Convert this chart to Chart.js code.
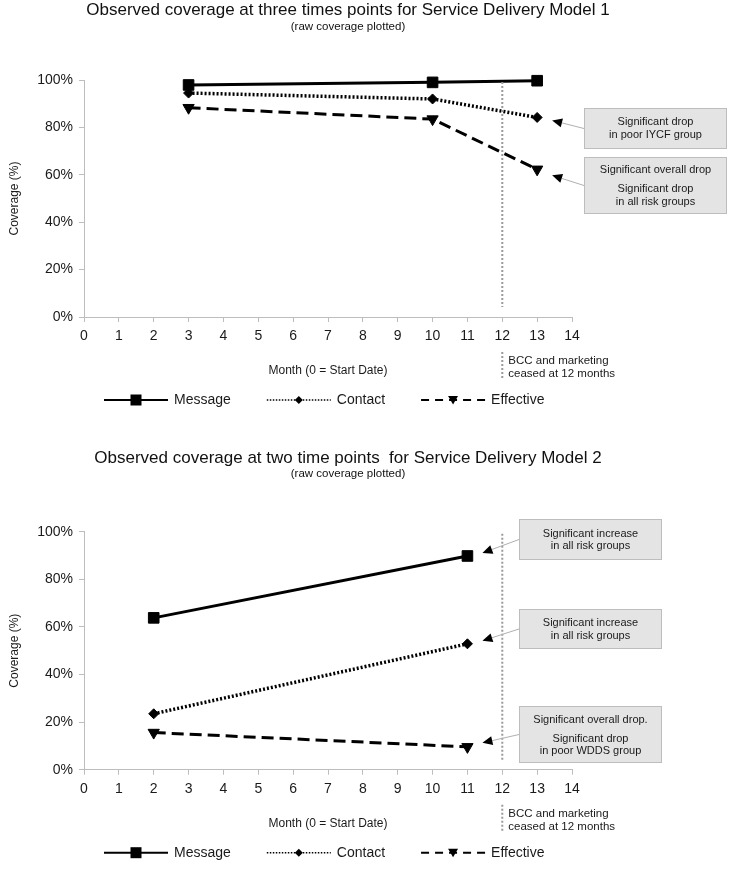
<!DOCTYPE html>
<html>
<head>
<meta charset="utf-8">
<title>Observed coverage</title>
<script src="https://cdn.jsdelivr.net/npm/chart.js@4.4.1/dist/chart.umd.min.js"></script>
<style>
  body { margin: 0; background: #fff; }
  .wrap { position: relative; width: 735px; height: 436px; }
</style>
</head>
<body>
<div class="wrap"><canvas id="model1" width="735" height="436"></canvas></div>
<div class="wrap"><canvas id="model2" width="735" height="436"></canvas></div>
<script>
// values, coverage in %
const seriesNames = ["Message", "Contact", "Effective"];

const months1 = [3, 10, 13];
const message1 = [97.9, 99.0, 99.7];
const contact1 = [94.5, 92.0, 84.2];
const effective1 = [88.3, 83.5, 62.3];

const months2 = [2, 11];
const message2 = [63.8, 89.8];
const contact2 = [23.5, 52.9];
const effective2 = [15.6, 9.6];

const yTicks = [0, 20, 40, 60, 80, 100];
const monthMin = 0, monthMax = 14;
const cutoffMonth = 12;

const FONT = "'Liberation Sans', Arial, sans-serif";
const INK = "#1a1a1a";
const AXIS = "#bdbdbd";

// line / marker look of each series (plot and legend)
const looks = [
  { dash: [], width: 3, point: "rect", radius: 7.5, rot: 0, legDash: [], legWidth: 2, legR: 5.5 },
  { dash: [2, 2], width: 3.5, point: "rectRot", radius: 5, rot: 0, legDash: [1.5, 1.5], legWidth: 1.5, legR: 4 },
  { dash: [12, 6], width: 3, point: "triangle", radius: 6.5, rot: 180, legDash: [8, 6], legWidth: 2, legR: 5 }
];

function makeDatasets(months, series) {
  return series.map(function (vals, i) {
    var lk = looks[i];
    return {
      label: seriesNames[i],
      data: months.map(function (m, j) { return { x: m, y: vals[j] }; }),
      borderColor: "#000",
      backgroundColor: "#000",
      borderWidth: lk.width,
      borderDash: lk.dash,
      pointStyle: lk.point,
      pointRadius: lk.radius,
      pointHoverRadius: lk.radius,
      pointRotation: lk.rot,
      pointBorderWidth: 1,
      tension: 0,
      clip: false
    };
  });
}

function line(ctx, x1, y1, x2, y2) {
  ctx.beginPath(); ctx.moveTo(x1, y1); ctx.lineTo(x2, y2); ctx.stroke();
}

function marker(ctx, style, x, y, r) {
  ctx.beginPath();
  if (style === "rect") {
    ctx.rect(x - r, y - r, 2 * r, 2 * r);
  } else if (style === "rectRot") {
    ctx.moveTo(x, y - r); ctx.lineTo(x + r, y); ctx.lineTo(x, y + r); ctx.lineTo(x - r, y);
  } else {
    ctx.moveTo(x - r, y - r * 0.8); ctx.lineTo(x + r, y - r * 0.8); ctx.lineTo(x, y + r * 0.9);
  }
  ctx.closePath(); ctx.fill();
}

// notes, arrows, cut-off line and the legend
function notesPlugin(cfg) {
  return {
    id: "notes",
    beforeDraw: function (chart) {
      var ctx = chart.ctx;
      ctx.save(); ctx.fillStyle = "#fff"; ctx.fillRect(0, 0, chart.width, chart.height); ctx.restore();
    },
    afterDraw: function (chart) {
      var ctx = chart.ctx, a = chart.chartArea;
      var cx = chart.scales.x.getPixelForValue(cutoffMonth);
      ctx.save();

      ctx.strokeStyle = "#9a9a9a"; ctx.lineWidth = 2; ctx.setLineDash([2, 2]);
      line(ctx, cx, a.top + 2, cx, a.bottom - 10);
      line(ctx, cx, a.bottom + 35, cx, a.bottom + 63);
      ctx.setLineDash([]);

      ctx.fillStyle = INK; ctx.font = "11.5px " + FONT;
      ctx.textAlign = "left"; ctx.textBaseline = "middle";
      ctx.fillText("BCC and marketing", cx + 6, a.bottom + 44);
      ctx.fillText("ceased at 12 months", cx + 6, a.bottom + 57);

      cfg.boxes.forEach(function (b) {
        ctx.fillStyle = "#e4e4e4"; ctx.strokeStyle = "#bdbdbd"; ctx.lineWidth = 1;
        ctx.fillRect(b.left, b.top, b.w, b.h);
        ctx.strokeRect(b.left + 0.5, b.top + 0.5, b.w - 1, b.h - 1);
        ctx.fillStyle = INK; ctx.font = "11px " + FONT; ctx.textAlign = "center";
        b.lines.forEach(function (ln) { ctx.fillText(ln[0], b.left + b.w / 2, b.top + ln[1]); });

        var pt = chart.getDatasetMeta(b.series).data[b.index];
        var tx = pt.x + 15, ty = pt.y + b.dy;
        var sx = b.left, sy = b.top + b.h / 2;
        var len = Math.hypot(sx - tx, sy - ty), ux = (sx - tx) / len, uy = (sy - ty) / len;
        var bx = tx + ux * 10, by = ty + uy * 10;
        ctx.strokeStyle = "#b0b0b0"; ctx.lineWidth = 1;
        line(ctx, sx, sy, bx, by);
        ctx.fillStyle = "#000";
        ctx.beginPath();
        ctx.moveTo(tx, ty);
        ctx.lineTo(bx - uy * 4.5, by + ux * 4.5);
        ctx.lineTo(bx + uy * 4.5, by - ux * 4.5);
        ctx.closePath(); ctx.fill();
      });

      // legend
      var ly = a.bottom + 83, lx = 104;
      ctx.font = "14px " + FONT; ctx.textAlign = "left";
      seriesNames.forEach(function (name, i) {
        var lk = looks[i];
        ctx.strokeStyle = "#000"; ctx.lineWidth = lk.legWidth; ctx.setLineDash(lk.legDash);
        line(ctx, lx, ly, lx + 64, ly);
        ctx.setLineDash([]);
        ctx.fillStyle = "#000";
        marker(ctx, lk.point, lx + 32, ly, lk.legR);
        ctx.fillStyle = INK;
        ctx.fillText(name, lx + 70, ly);
        lx += 70 + ctx.measureText(name).width + 36;
      });
      ctx.restore();
    }
  };
}

function makeChart(id, datasets, titleText, titlePad, subPad, bottomPad, boxes) {
  return new Chart(document.getElementById(id), {
    type: "line",
    data: { datasets: datasets },
    plugins: [notesPlugin({ boxes: boxes })],
    options: {
      responsive: false,
      animation: false,
      events: [],
      layout: { padding: { left: 0, right: 39, top: 0, bottom: bottomPad } },
      plugins: {
        legend: { display: false },
        tooltip: { enabled: false },
        title: {
          display: true, text: titleText, color: "#111",
          font: { family: FONT, size: 17, weight: "normal", lineHeight: 1.2 },
          padding: titlePad
        },
        subtitle: {
          display: true, text: "(raw coverage plotted)", color: "#111",
          font: { family: FONT, size: 11.5, weight: "normal", lineHeight: 1.0 },
          padding: subPad
        }
      },
      scales: {
        x: {
          type: "linear", min: monthMin, max: monthMax,
          grid: { drawOnChartArea: false, color: AXIS, tickLength: 5 },
          border: { color: AXIS },
          ticks: { stepSize: 1, padding: 6, color: INK, font: { family: FONT, size: 14 } },
          title: {
            display: true, text: "Month (0 = Start Date)", color: INK,
            font: { family: FONT, size: 12 }, padding: { top: 13, bottom: 0 }
          }
        },
        y: {
          min: 0, max: 100,
          afterFit: function (s) { s.width = 84; },
          afterBuildTicks: function (s) { s.ticks = yTicks.map(function (v) { return { value: v }; }); },
          grid: { drawOnChartArea: false, color: AXIS, tickLength: 5 },
          border: { color: AXIS },
          ticks: {
            padding: 6, color: INK, font: { family: FONT, size: 14 },
            callback: function (v) { return v + "%"; }
          },
          title: {
            display: true, text: "Coverage (%)", color: INK,
            font: { family: FONT, size: 12 }, padding: { top: 7, bottom: 0 }
          }
        },
        // empty right-hand strip that holds the note boxes
        notes: {
          position: "right", min: 0, max: 1,
          afterFit: function (s) { s.width = 124; },
          grid: { display: false }, border: { display: false },
          ticks: { display: false }
        }
      }
    }
  });
}

makeChart("model1",
  makeDatasets(months1, [message1, contact1, effective1]),
  "Observed coverage at three times points for Service Delivery Model 1",
  { top: 0, bottom: 0 }, { top: 1, bottom: 47.1 }, 57.8,
  [
    { left: 584, top: 108, w: 143, h: 41, series: 1, index: 2, dy: 3,
      lines: [["Significant drop", 14], ["in poor IYCF group", 27]] },
    { left: 584, top: 157, w: 143, h: 57, series: 2, index: 2, dy: 6,
      lines: [["Significant overall drop", 13], ["Significant drop", 32], ["in all risk groups", 45]] }
  ]);

makeChart("model2",
  makeDatasets(months2, [message2, contact2, effective2]),
  "Observed coverage at two time points  for Service Delivery Model 2",
  { top: 12, bottom: 0 }, { top: 0, bottom: 51.8 }, 41.1,
  [
    { left: 519, top: 83, w: 143, h: 41, series: 0, index: 1, dy: -3,
      lines: [["Significant increase", 15], ["in all risk groups", 27]] },
    { left: 519, top: 173, w: 143, h: 40, series: 1, index: 1, dy: -3,
      lines: [["Significant increase", 14], ["in all risk groups", 27]] },
    { left: 519, top: 270, w: 143, h: 57, series: 2, index: 1, dy: -4,
      lines: [["Significant overall drop.", 14], ["Significant drop", 33], ["in poor WDDS group", 45]] }
  ]);
</script>
</body>
</html>
